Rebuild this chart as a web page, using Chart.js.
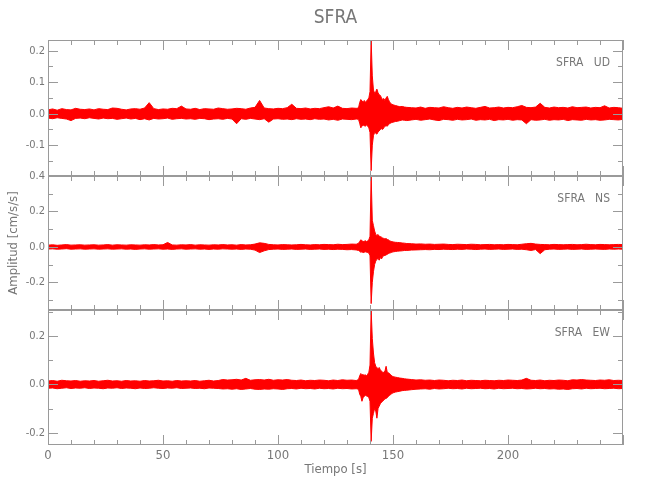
<!DOCTYPE html>
<html lang="es">
<head>
<meta charset="UTF-8" />
<title>SFRA</title>
<script src="https://cdn.jsdelivr.net/npm/chart.js"></script>
<style>
  body { margin: 0; background: #fff; }
  #wrap { position: relative; width: 650px; height: 500px; }
  #wrap canvas { position: absolute; left: 0; top: 0; }
</style>
</head>
<body>
<div id="wrap">
  <canvas id="panelUD" width="650" height="500"></canvas>
  <canvas id="panelNS" width="650" height="500"></canvas>
  <canvas id="panelEW" width="650" height="500"></canvas>
</div>
<script>
// estación y componentes
const station = 'SFRA';
const xTitle = 'Tiempo [s]';
const yTitle = 'Amplitud [cm/s/s]';

// tiempos de muestreo de la envolvente (s)
const times = [
  0, 2, 4, 6, 8, 10, 12, 14, 16, 18,
  20, 22, 24, 26, 28, 30, 32, 34, 36, 38,
  40, 42, 44, 46, 48, 50, 52, 54, 56, 58,
  60, 62, 64, 66, 68, 70, 72, 74, 76, 78,
  80, 82, 84, 86, 88, 90, 92, 94, 96, 98,
  100, 102, 104, 106, 108, 110, 112, 114, 116, 118,
  120, 122, 124, 126, 128, 130, 132, 134,
  135, 135.5, 136, 136.5, 137, 137.5, 138, 138.5, 139, 139.5,
  140, 140.5, 141, 141.5, 142, 142.5, 143, 143.5, 144, 144.5,
  145, 145.5, 146, 146.5, 147, 147.5, 148, 148.5, 149, 149.5, 150,
  151, 152, 153, 154, 155, 156,
  158, 160, 162, 164, 166, 168, 170, 172, 174, 176,
  178, 180, 182, 184, 186, 188, 190, 192, 194, 196,
  198, 200, 202, 204, 206, 208, 210, 212, 214, 216,
  218, 220, 222, 224, 226, 228, 230, 232, 234, 236,
  238, 240, 242, 244, 246, 248, 250
];

// componente UD: máximos y mínimos
const udUpper = [
  .012, .015, .011, .016, .013, .012, .017, .014, .013, .015,
  .012, .016, .014, .013, .018, .017, .014, .012, .015, .016,
  .014, .018, .035, .016, .013, .015, .014, .017, .016, .024,
  .015, .014, .017, .013, .016, .015, .014, .018, .016, .014,
  .015, .017, .016, .014, .018, .020, .042, .018, .016, .015,
  .017, .016, .019, .030, .017, .016, .018, .015, .017, .016,
  .019, .022, .018, .024, .017, .016, .018, .017,
  .018, .035, .045, .040, .038, .042, .036, .040, .045, .050,
  .070, .234, .120, .075, .065, .070, .078, .066, .060, .058,
  .050, .045, .048, .042, .050, .055, .045, .038, .032, .030, .028,
  .026, .024, .022, .023, .021, .020,
  .019, .018, .021, .017, .020, .019, .018, .022, .019, .017,
  .020, .018, .021, .019, .017, .020, .023, .018, .019, .021,
  .018, .020, .019, .022, .026, .020, .019, .021, .033, .020,
  .018, .021, .019, .020, .018, .022, .019, .020, .021, .018,
  .020, .019, .025, .018, .020, .019, .017
];
const udLower = [
  -.014, -.016, -.013, -.015, -.017, -.022, -.015, -.014, -.016, -.013,
  -.015, -.017, -.014, -.016, -.015, -.018, -.016, -.014, -.017, -.015,
  -.019, -.016, -.020, -.015, -.017, -.016, -.014, -.018, -.016, -.015,
  -.017, -.016, -.018, -.015, -.016, -.019, -.017, -.016, -.018, -.015,
  -.017, -.032, -.016, -.018, -.015, -.017, -.019, -.016, -.027, -.017,
  -.016, -.018, -.017, -.019, -.016, -.018, -.017, -.019, -.016, -.018,
  -.017, -.020, -.018, -.021, -.017, -.018, -.019, -.017,
  -.018, -.030, -.045, -.040, -.036, -.038, -.040, -.035, -.040, -.045,
  -.060, -.181, -.100, -.070, -.060, -.062, -.065, -.058, -.055, -.050,
  -.048, -.050, -.045, -.040, -.038, -.040, -.035, -.032, -.030, -.028, -.027,
  -.025, -.024, -.022, -.020, -.021, -.022,
  -.020, -.018, -.021, -.019, -.017, -.020, -.022, -.018, -.019, -.021,
  -.018, -.020, -.019, -.017, -.021, -.019, -.020, -.018, -.022, -.019,
  -.020, -.018, -.021, -.019, -.020, -.032, -.019, -.021, -.020, -.018,
  -.021, -.019, -.020, -.018, -.022, -.019, -.020, -.021, -.018, -.020,
  -.019, -.021, -.020, -.018, -.019, -.020, -.018
];

// componente NS
const nsUpper = [
  .010, .012, .009, .011, .013, .010, .011, .012, .010, .011,
  .012, .010, .011, .013, .010, .012, .011, .010, .012, .011,
  .010, .012, .011, .013, .011, .012, .025, .011, .010, .012,
  .011, .013, .010, .012, .011, .010, .012, .011, .013, .011,
  .012, .010, .013, .011, .012, .016, .023, .020, .014, .012,
  .011, .013, .012, .011, .012, .014, .012, .011, .013, .012,
  .014, .013, .012, .015, .013, .014, .016, .015,
  .020, .030, .040, .035, .030, .032, .035, .030, .034, .040,
  .060, .400, .150, .120, .090, .070, .065, .070, .060, .058,
  .055, .050, .048, .045, .047, .042, .040, .035, .032, .030, .028,
  .026, .025, .024, .022, .021, .019,
  .018, .016, .017, .015, .016, .014, .015, .016, .014, .013,
  .015, .014, .013, .015, .014, .012, .013, .014, .012, .013,
  .012, .014, .013, .012, .015, .018, .020, .016, .014, .013,
  .012, .014, .013, .012, .013, .014, .012, .013, .015, .013,
  .012, .014, .013, .012, .013, .014, .013
];
const nsLower = [
  -.012, -.011, -.013, -.012, -.010, -.013, -.012, -.011, -.013, -.012,
  -.011, -.013, -.012, -.011, -.013, -.012, -.011, -.013, -.012, -.014,
  -.012, -.011, -.013, -.012, -.011, -.013, -.012, -.014, -.012, -.011,
  -.013, -.012, -.011, -.013, -.012, -.014, -.012, -.013, -.011, -.012,
  -.013, -.012, -.014, -.012, -.013, -.018, -.032, -.022, -.015, -.013,
  -.012, -.014, -.013, -.012, -.014, -.013, -.012, -.014, -.013, -.012,
  -.014, -.013, -.015, -.013, -.014, -.016, -.015, -.017,
  -.020, -.025, -.030, -.028, -.032, -.030, -.028, -.030, -.032, -.035,
  -.050, -.320, -.200, -.140, -.100, -.080, -.070, -.065, -.075, -.060,
  -.068, -.055, -.050, -.048, -.045, -.042, -.038, -.035, -.033, -.030, -.028,
  -.026, -.024, -.023, -.022, -.020, -.020,
  -.018, -.017, -.016, -.015, -.016, -.014, -.015, -.013, -.014, -.015,
  -.013, -.014, -.012, -.013, -.015, -.013, -.012, -.014, -.013, -.012,
  -.014, -.013, -.012, -.014, -.013, -.016, -.020, -.015, -.038, -.016,
  -.013, -.012, -.014, -.013, -.012, -.014, -.013, -.012, -.014, -.013,
  -.012, -.013, -.014, -.012, -.013, -.012, -.013
];

// componente EW
const ewUpper = [
  .014, .016, .013, .017, .015, .014, .016, .013, .015, .014,
  .016, .013, .015, .017, .014, .015, .013, .016, .014, .015,
  .013, .016, .014, .015, .017, .014, .015, .013, .016, .014,
  .015, .014, .016, .013, .015, .017, .014, .016, .020, .018,
  .019, .021, .018, .025, .017, .019, .020, .018, .021, .017,
  .019, .018, .020, .017, .016, .018, .015, .017, .016, .018,
  .017, .015, .018, .016, .019, .017, .018, .016,
  .020, .035, .045, .040, .040, .038, .040, .035, .042, .050,
  .080, .308, .190, .130, .090, .075, .070, .065, .070, .060,
  .055, .050, .050, .055, .075, .050, .048, .045, .040, .035, .032,
  .030, .028, .026, .025, .023, .022,
  .020, .018, .019, .017, .018, .016, .018, .017, .015, .017,
  .016, .018, .015, .017, .016, .015, .017, .016, .015, .017,
  .016, .018, .017, .016, .018, .025, .017, .016, .018, .015,
  .017, .016, .018, .017, .015, .019, .018, .020, .018, .017,
  .016, .018, .017, .019, .016, .017, .016
];
const ewLower = [
  -.016, -.015, -.018, -.016, -.014, -.017, -.015, -.016, -.014, -.017,
  -.015, -.016, -.018, -.015, -.016, -.014, -.017, -.015, -.016, -.018,
  -.015, -.017, -.016, -.014, -.016, -.017, -.015, -.016, -.014, -.017,
  -.016, -.015, -.017, -.016, -.018, -.015, -.016, -.017, -.019, -.018,
  -.020, -.018, -.021, -.019, -.017, -.020, -.021, -.019, -.020, -.018,
  -.019, -.021, -.018, -.017, -.019, -.016, -.018, -.017, -.019, -.016,
  -.018, -.017, -.019, -.016, -.018, -.017, -.019, -.018,
  -.020, -.040, -.050, -.070, -.055, -.050, -.045, -.048, -.050, -.055,
  -.070, -.236, -.140, -.120, -.100, -.110, -.140, -.100, -.090, -.080,
  -.075, -.070, -.065, -.060, -.058, -.055, -.050, -.045, -.042, -.038, -.035,
  -.032, -.030, -.028, -.026, -.025, -.024,
  -.022, -.020, -.019, -.018, -.020, -.017, -.019, -.018, -.016, -.018,
  -.017, -.019, -.016, -.018, -.017, -.016, -.018, -.017, -.019, -.016,
  -.018, -.017, -.016, -.018, -.017, -.019, -.018, -.016, -.018, -.017,
  -.019, -.018, -.020, -.019, -.021, -.018, -.017, -.019, -.016, -.018,
  -.017, -.016, -.018, -.017, -.016, -.018, -.017
];

// marcas de los ejes
const xTickLabels = [0, 50, 100, 150, 200];
const yTicksUD = [-0.1, 0.0, 0.1, 0.2];
const yTicksNS = [-0.2, 0.0, 0.2, 0.4];
const yTicksEW = [-0.2, 0.0, 0.2];

const FONT = "'Liberation Sans Narrow', 'DejaVu Sans Condensed', 'Liberation Sans', sans-serif";
const GREY = '#777777';

// marco y marcas internas (mayores y menores) en los cuatro lados
const frameTicks = {
  id: 'frameTicks',
  afterDatasetsDraw(chart, args, opts) {
    const { ctx, chartArea: a, scales: { x, y } } = chart;
    ctx.save();
    ctx.strokeStyle = '#9a9a9a';
    ctx.lineWidth = 1;
    ctx.strokeRect(a.left + 0.5, a.top + 0.5, a.right - a.left - 1, a.bottom - a.top - 1);
    ctx.beginPath();
    for (let k = 0; k <= 25; k++) {
      const v = k * 10;
      const px = Math.round(x.getPixelForValue(v)) + 0.5;
      const len = k % 5 === 0 ? 10 : 5;
      ctx.moveTo(px, a.top); ctx.lineTo(px, a.top + len);
      ctx.moveTo(px, a.bottom); ctx.lineTo(px, a.bottom - len);
    }
    const step = opts.minorStep, major = opts.majorStep;
    const k0 = Math.ceil(y.min / step - 1e-6), k1 = Math.floor(y.max / step + 1e-6);
    for (let k = k0; k <= k1; k++) {
      const v = k * step;
      const py = Math.round(y.getPixelForValue(v)) + 0.5;
      const r = v / major;
      const len = Math.abs(r - Math.round(r)) < 1e-6 ? 10 : 5;
      ctx.moveTo(a.left, py); ctx.lineTo(a.left + len, py);
      ctx.moveTo(a.right, py); ctx.lineTo(a.right - len, py);
    }
    ctx.stroke();

    ctx.fillStyle = GREY;
    if (opts.title) {
      ctx.font = '19px ' + FONT;
      ctx.textAlign = 'center';
      ctx.textBaseline = 'middle';
      ctx.fillText(opts.title, (a.left + a.right) / 2, 18);
    }
    ctx.font = '12px ' + FONT;
    ctx.textAlign = 'right';
    ctx.textBaseline = 'alphabetic';
    ctx.fillText(station + '   ' + opts.component, a.right - 13, a.top + 26);
    ctx.restore();
  }
};

function fmt(v) {
  return (v < 0 ? '-' : '') + Math.abs(v).toFixed(1);
}

function drawPanel(canvasId, p) {
  const ctx = document.getElementById(canvasId).getContext('2d');
  return new Chart(ctx, {
    type: 'line',
    data: {
      datasets: [
        {
          data: times.map((t, i) => ({ x: t, y: p.upper[i] })),
          borderColor: '#ff0000',
          borderWidth: 1,
          pointRadius: 0,
          fill: false
        },
        {
          data: times.map((t, i) => ({ x: t, y: p.lower[i] })),
          borderColor: '#ff0000',
          backgroundColor: '#ff0000',
          borderWidth: 1,
          pointRadius: 0,
          fill: '-1'
        }
      ]
    },
    options: {
      responsive: false,
      animation: false,
      devicePixelRatio: 1,
      layout: { padding: { left: 0, right: 27, top: p.top, bottom: p.bottom } },
      plugins: {
        legend: { display: false },
        tooltip: { enabled: false },
        frameTicks: {
          component: p.component,
          minorStep: p.minorStep,
          majorStep: p.majorStep,
          title: p.title
        }
      },
      scales: {
        x: {
          type: 'linear',
          min: 0,
          max: 250,
          grid: { display: false, drawTicks: false },
          border: { display: false },
          afterBuildTicks: s => { s.ticks = xTickLabels.map(v => ({ value: v })); },
          ticks: {
            display: p.showX,
            color: GREY,
            padding: 3,
            maxRotation: 0,
            font: { family: FONT, size: 13 }
          },
          title: {
            display: p.showX,
            text: xTitle,
            color: GREY,
            font: { family: FONT, size: 13 },
            padding: { top: 0, bottom: 23 }
          },
          afterFit: s => { s.height = p.showX ? 55 : 0; }
        },
        y: {
          min: p.yMin,
          max: p.yMax,
          grid: { display: false, drawTicks: false },
          border: { display: false },
          afterBuildTicks: s => { s.ticks = p.yTicks.map(v => ({ value: v })); },
          ticks: {
            color: GREY,
            padding: 3,
            font: { family: FONT, size: 11 },
            callback: v => fmt(v)
          },
          title: {
            display: p.showYTitle,
            text: yTitle,
            color: GREY,
            font: { family: FONT, size: 13 },
            padding: { top: 6, bottom: 0 }
          },
          afterFit: s => { s.width = 48; }
        }
      }
    },
    plugins: [frameTicks]
  });
}

drawPanel('panelUD', {
  component: 'UD', title: station, upper: udUpper, lower: udLower,
  yMin: -0.198, yMax: 0.234, yTicks: yTicksUD, minorStep: 0.05, majorStep: 0.1,
  top: 40, bottom: 324, showX: false, showYTitle: false
});
drawPanel('panelNS', {
  component: 'NS', upper: nsUpper, lower: nsLower,
  yMin: -0.356, yMax: 0.4, yTicks: yTicksNS, minorStep: 0.1, majorStep: 0.2,
  top: 176, bottom: 190, showX: false, showYTitle: true
});
drawPanel('panelEW', {
  component: 'EW', upper: ewUpper, lower: ewLower,
  yMin: -0.251, yMax: 0.308, yTicks: yTicksEW, minorStep: 0.1, majorStep: 0.2,
  top: 310, bottom: 0, showX: true, showYTitle: false
});
</script>
</body>
</html>
